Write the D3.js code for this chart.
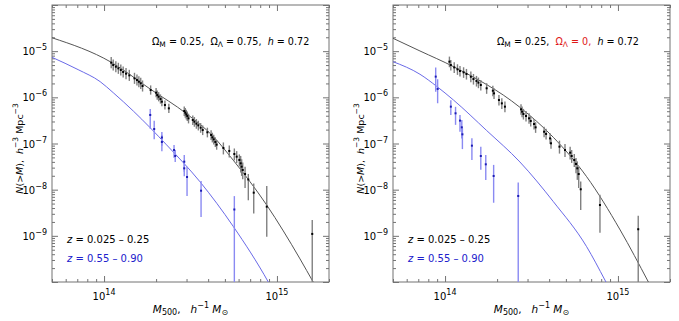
<!DOCTYPE html>
<html>
<head>
<meta charset="utf-8">
<script src="https://cdn.jsdelivr.net/npm/d3@7"></script>
<style>
  body { margin: 0; background: #fff; }
  svg { display: block; }
  text { font-family: "DejaVu Sans", sans-serif; fill: #000; white-space: pre; }
</style>
</head>
<body>
<svg id="chart" width="679" height="321"></svg>
<script>
// ---------------------------------------------------------------------------
// data (masses in 1e14 h^-1 Msun, N(>M) in h^3 Mpc^-3, errors in dex)
// ---------------------------------------------------------------------------

const massDomain = [5e13, 2e15];
const densDomain = [1e-10, 1e-4];
const xMajorLabels = [1e14, 1e15];
const yMajorLabels = [1e-5, 1e-6, 1e-7, 1e-8, 1e-9];

// panel 1: Omega_L = 0.75
const lowZ1_M = [1.10, 1.13, 1.17, 1.21, 1.25, 1.29, 1.34, 1.40, 1.50, 1.55, 1.59, 1.63, 1.67,
  1.86, 2.00, 2.03, 2.07, 2.12, 2.16, 2.25, 2.37, 2.91, 2.95, 2.99, 3.03, 3.08, 3.26, 3.33,
  3.42, 3.51, 3.62, 3.72, 3.96, 4.16, 4.23, 4.31, 4.40, 4.48, 4.90, 5.30, 5.67, 5.85, 6.06,
  6.17, 6.25, 6.34, 6.54, 6.83, 7.34, 8.73, 16.0];
const lowZ1_N = [5.64e-6, 5.01e-6, 4.61e-6, 4.25e-6, 3.91e-6, 3.54e-6, 3.26e-6, 2.99e-6, 2.58e-6,
  2.37e-6, 2.18e-6, 2.01e-6, 1.76e-6, 1.44e-6, 1.26e-6, 1.12e-6, 1.03e-6, 9.20e-7, 8.05e-7,
  6.82e-7, 5.78e-7, 5.06e-7, 4.66e-7, 4.28e-7, 3.94e-7, 3.51e-7, 3.23e-7, 2.97e-7, 2.69e-7,
  2.47e-7, 2.20e-7, 1.96e-7, 1.75e-7, 1.53e-7, 1.36e-7, 1.23e-7, 1.08e-7, 9.45e-8, 8.00e-8,
  6.89e-8, 5.92e-8, 5.19e-8, 4.40e-8, 3.72e-8, 3.15e-8, 2.67e-8, 2.18e-8, 1.66e-8, 8.61e-9,
  4.28e-9, 1.10e-9];
const lowZ1_up = [0.12, 0.12, 0.12, 0.12, 0.12, 0.12, 0.12, 0.12, 0.12, 0.12, 0.12, 0.12, 0.12,
  0.1, 0.1, 0.1, 0.1, 0.1, 0.1, 0.1, 0.1, 0.1, 0.1, 0.1, 0.1, 0.1, 0.1, 0.1, 0.1, 0.1, 0.1,
  0.1, 0.1, 0.1, 0.1, 0.1, 0.1, 0.1, 0.12, 0.12, 0.12, 0.12, 0.12, 0.16, 0.16, 0.16, 0.16,
  0.12, 0.2, 0.45, 0.3];
const lowZ1_dn = [0.12, 0.12, 0.12, 0.12, 0.12, 0.12, 0.12, 0.12, 0.12, 0.12, 0.12, 0.12, 0.12,
  0.1, 0.1, 0.1, 0.1, 0.1, 0.1, 0.1, 0.1, 0.11, 0.11, 0.11, 0.11, 0.11, 0.11, 0.11, 0.11,
  0.11, 0.11, 0.11, 0.11, 0.11, 0.11, 0.11, 0.11, 0.11, 0.14, 0.14, 0.14, 0.14, 0.14, 0.2,
  0.2, 0.2, 0.3, 0.45, 0.45, 0.65, 1.5];

const highZ1_M = [1.85, 1.95, 2.16, 2.16, 2.54, 2.58, 2.91, 2.91, 3.02, 3.64, 5.67];
const highZ1_N = [4.15e-7, 2.06e-7, 1.35e-7, 1.08e-7, 7.24e-8, 5.37e-8, 4.04e-8, 2.90e-8,
  1.88e-8, 9.5e-9, 3.72e-9];
const highZ1_up = [0.13, 0.18, 0.12, 0.15, 0.11, 0.13, 0.145, 0.14, 0.22, 0.21, 0.29];
const highZ1_dn = [0.3, 0.22, 0.18, 0.2, 0.17, 0.13, 0.22, 0.17, 0.41, 0.57, 2.0];

const modelLow1_M = [0.5, 1.10, 1.85, 3.01, 4.29, 5.58, 8.71, 13.6, 16.2, 20.0];
const modelLow1_N = [1.95e-5, 5.75e-6, 1.51e-6, 4.37e-7, 1.41e-7, 4.37e-8, 4.68e-9, 3.16e-10,
  1.0e-10, 2.6e-11];
const modelHigh1_M = [0.5, 0.708, 0.949, 1.13, 1.48, 2.30, 3.59, 5.60, 8.91, 11.2];
const modelHigh1_N = [7.36e-6, 3.98e-6, 2.19e-6, 1.26e-6, 5.01e-7, 9.33e-8, 1.48e-8, 1.58e-9,
  1.0e-10, 2.0e-11];

// panel 2: Omega_L = 0
const lowZ2_M = [1.06, 1.08, 1.13, 1.18, 1.22, 1.28, 1.33, 1.41, 1.46, 1.52, 1.56, 1.61, 1.74,
  1.89, 1.92, 2.05, 2.13, 2.22, 2.75, 2.79, 2.84, 2.94, 3.06, 3.13, 3.27, 3.34, 3.74, 3.84,
  4.05, 4.10, 4.59, 4.94, 5.29, 5.40, 5.59, 5.72, 5.82, 5.93, 6.09, 7.87, 13.1];
const lowZ2_N = [5.92e-6, 5.01e-6, 4.46e-6, 4.04e-6, 3.72e-6, 3.48e-6, 3.20e-6, 2.80e-6, 2.49e-6,
  2.26e-6, 2.08e-6, 1.85e-6, 1.57e-6, 1.39e-6, 1.22e-6, 8.76e-7, 7.41e-7, 6.28e-7, 5.50e-7,
  4.89e-7, 4.36e-7, 3.94e-7, 3.51e-7, 3.07e-7, 2.64e-7, 2.24e-7, 1.80e-7, 1.61e-7, 1.29e-7,
  1.01e-7, 8.54e-8, 7.22e-8, 6.33e-8, 5.36e-8, 4.39e-8, 3.60e-8, 2.90e-8, 2.18e-8, 1.02e-8,
  4.65e-9, 1.39e-9];
const lowZ2_up = [0.11, 0.11, 0.11, 0.11, 0.11, 0.11, 0.11, 0.11, 0.11, 0.11, 0.11, 0.11, 0.11,
  0.11, 0.11, 0.11, 0.11, 0.11, 0.11, 0.11, 0.11, 0.11, 0.11, 0.11, 0.11, 0.11, 0.11, 0.11,
  0.11, 0.11, 0.13, 0.13, 0.13, 0.13, 0.13, 0.13, 0.15, 0.15, 0.17, 0.22, 0.29];
const lowZ2_dn = [0.12, 0.12, 0.12, 0.12, 0.12, 0.12, 0.12, 0.12, 0.12, 0.12, 0.12, 0.12, 0.12,
  0.12, 0.12, 0.12, 0.12, 0.12, 0.12, 0.12, 0.12, 0.12, 0.12, 0.12, 0.12, 0.12, 0.12, 0.12,
  0.12, 0.12, 0.15, 0.15, 0.15, 0.15, 0.15, 0.2, 0.25, 0.3, 0.45, 0.6, 1.5];

const highZ2_M = [0.883, 0.906, 1.08, 1.15, 1.22, 1.25, 1.26, 1.43, 1.61, 1.72, 1.91, 2.65];
const highZ2_N = [2.81e-6, 1.52e-6, 6.28e-7, 4.51e-7, 3.13e-7, 2.24e-7, 1.58e-7, 8.98e-8,
  5.36e-8, 3.54e-8, 1.98e-8, 7.30e-9];
const highZ2_up = [0.2, 0.21, 0.14, 0.14, 0.12, 0.16, 0.13, 0.16, 0.2, 0.2, 0.24, 0.29];
const highZ2_dn = [0.33, 0.31, 0.18, 0.25, 0.24, 0.24, 0.32, 0.31, 0.3, 0.34, 0.58, 2.0];

const modelLow2_M = [0.5, 0.716, 1.12, 2.71, 4.23, 6.59, 10.3, 15.0, 20.0];
const modelLow2_N = [1.90e-5, 1.01e-5, 4.61e-6, 6.08e-7, 1.36e-7, 1.91e-8, 1.34e-9, 1.0e-10,
  1.26e-11];
const modelHigh2_M = [0.5, 0.716, 0.893, 1.12, 1.74, 2.71, 4.23, 6.59, 8.41, 10.0];
const modelHigh2_N = [5.92e-6, 3.16e-6, 1.74e-6, 8.71e-7, 1.91e-7, 3.98e-8, 5.50e-9, 5.82e-10,
  1.10e-10, 3.16e-11];

// ---------------------------------------------------------------------------
// layout / style
// ---------------------------------------------------------------------------

const FRAME = { top: 5, size: 277 };
const COLORS = {
  frame: '#737373',
  lowCurve: '#555555',
  lowErr: '#808080',
  lowDot: '#000000',
  highCurve: '#6a6ae8',
  highErr: '#8a8af2',
  highDot: '#1c1cb4',
  highText: '#2020cc',
  red: '#e01818',
};

const panels = [
  {
    left: 52, annX: 100, omegaL: '0.75', omegaRed: false,
    low: { M: lowZ1_M, N: lowZ1_N, up: lowZ1_up, dn: lowZ1_dn },
    high: { M: highZ1_M, N: highZ1_N, up: highZ1_up, dn: highZ1_dn },
    modelLow: { M: modelLow1_M, N: modelLow1_N },
    modelHigh: { M: modelHigh1_M, N: modelHigh1_N },
  },
  {
    left: 393, annX: 104, omegaL: '0', omegaRed: true,
    low: { M: lowZ2_M, N: lowZ2_N, up: lowZ2_up, dn: lowZ2_dn },
    high: { M: highZ2_M, N: highZ2_N, up: highZ2_up, dn: highZ2_dn },
    modelLow: { M: modelLow2_M, N: modelLow2_N },
    modelHigh: { M: modelHigh2_M, N: modelHigh2_N },
  },
];

const svg = d3.select('#chart');

function toRows(s) {
  return s.M.map((m, i) => ({
    M: m * 1e14,
    N: s.N[i],
    hi: s.up ? s.N[i] * Math.pow(10, s.up[i]) : null,
    lo: s.dn ? s.N[i] / Math.pow(10, s.dn[i]) : null,
  }));
}

function isMajor(v) {
  const m = v / Math.pow(10, Math.floor(Math.log10(v) + 1e-9));
  return Math.abs(m - 1) < 1e-6;
}

function drawPanel(p, idx) {
  const size = FRAME.size;
  const g = svg.append('g').attr('transform', `translate(${p.left},${FRAME.top})`);

  const x = d3.scaleLog().domain(massDomain).range([0, size]);
  const y = d3.scaleLog().domain(densDomain).range([size, 0]);

  const clipId = `clip-${idx}`;
  g.append('clipPath').attr('id', clipId)
    .append('rect').attr('width', size).attr('height', size);

  // ticks (inward, all four sides)
  const xt = x.ticks();
  const yt = y.ticks();
  const xMaj = xt.filter(isMajor), xMin = xt.filter(v => !isMajor(v));
  const yMaj = yt.filter(isMajor), yMin = yt.filter(v => !isMajor(v));

  const axes = [
    [d3.axisBottom(x), xMaj, 6, `translate(0,${size})`],
    [d3.axisBottom(x), xMin, 3, `translate(0,${size})`],
    [d3.axisTop(x), xMaj, 6, 'translate(0,0)'],
    [d3.axisTop(x), xMin, 3, 'translate(0,0)'],
    [d3.axisLeft(y), yMaj, 6, 'translate(0,0)'],
    [d3.axisLeft(y), yMin, 3, 'translate(0,0)'],
    [d3.axisRight(y), yMaj, 6, `translate(${size},0)`],
    [d3.axisRight(y), yMin, 3, `translate(${size},0)`],
  ];
  axes.forEach(([ax, vals, len, tr]) => {
    const a = g.append('g').attr('transform', tr)
      .call(ax.tickValues(vals).tickSize(-len).tickFormat(''));
    a.select('.domain').remove();
    a.selectAll('line').attr('stroke', COLORS.frame).attr('stroke-width', 1);
  });

  g.append('rect')
    .attr('width', size).attr('height', size)
    .attr('fill', 'none').attr('stroke', COLORS.frame).attr('stroke-width', 1);

  // tick labels with superscripts
  xMajorLabels.forEach(v => {
    const t = g.append('text')
      .attr('x', x(v)).attr('y', size + 18)
      .attr('text-anchor', 'middle').style('font-size', '10px');
    t.append('tspan').text('10');
    t.append('tspan').attr('dy', -5).style('font-size', '8px').text(Math.round(Math.log10(v)));
  });
  yMajorLabels.forEach(v => {
    const t = g.append('text')
      .attr('x', -5).attr('y', y(v) + 4)
      .attr('text-anchor', 'end').style('font-size', '10px');
    t.append('tspan').text('10');
    t.append('tspan').attr('dy', -5).style('font-size', '8px')
      .text('\u2212' + Math.abs(Math.round(Math.log10(v))));
  });

  // model curves
  const plot = g.append('g').attr('clip-path', `url(#${clipId})`);
  const line = d3.line()
    .x(d => x(d.M)).y(d => y(d.N))
    .curve(d3.curveMonotoneX);

  plot.append('path').datum(toRows(p.modelLow))
    .attr('d', line).attr('fill', 'none')
    .attr('stroke', COLORS.lowCurve).attr('stroke-width', 1);
  plot.append('path').datum(toRows(p.modelHigh))
    .attr('d', line).attr('fill', 'none')
    .attr('stroke', COLORS.highCurve).attr('stroke-width', 1);

  // data points with error bars
  [[p.low, COLORS.lowErr, COLORS.lowDot], [p.high, COLORS.highErr, COLORS.highDot]]
    .forEach(([set, errColor, dotColor]) => {
      const rows = toRows(set);
      plot.selectAll(null).data(rows).enter().append('line')
        .attr('x1', d => x(d.M)).attr('x2', d => x(d.M))
        .attr('y1', d => y(d.hi)).attr('y2', d => y(d.lo))
        .attr('stroke', errColor).attr('stroke-width', 1.4);
      plot.selectAll(null).data(rows).enter().append('rect')
        .attr('x', d => x(d.M) - 1).attr('y', d => y(d.N) - 1)
        .attr('width', 2).attr('height', 2)
        .attr('fill', dotColor);
    });

  // cosmology annotation
  const ann = g.append('text')
    .attr('x', p.annX).attr('y', 40)
    .style('font-size', '9.6px');
  ann.append('tspan').text('\u03A9');
  ann.append('tspan').attr('dy', 2).style('font-size', '7.5px').text('M');
  ann.append('tspan').attr('dy', -2).text(' = 0.25,  ');
  const red = p.omegaRed ? COLORS.red : '#000';
  ann.append('tspan').style('fill', red).text('\u03A9');
  ann.append('tspan').attr('dy', 2).style('font-size', '7.5px').style('fill', red).text('\u039B');
  ann.append('tspan').attr('dy', -2).style('fill', red).text(` = ${p.omegaL},`);
  ann.append('tspan').text('  ');
  ann.append('tspan').style('font-style', 'italic').text('h');
  ann.append('tspan').text(' = 0.72');

  // redshift legend
  const leg1 = g.append('text').attr('x', 15).attr('y', 238).style('font-size', '10px');
  leg1.append('tspan').style('font-style', 'italic').text('z');
  leg1.append('tspan').text(' = 0.025 \u2013 0.25');
  const leg2 = g.append('text').attr('x', 15).attr('y', 257).style('font-size', '10px');
  leg2.append('tspan').style('font-style', 'italic').style('fill', COLORS.highText).text('z');
  leg2.append('tspan').style('fill', COLORS.highText).text(' = 0.55 \u2013 0.90');

  // x axis title
  const xTitle = g.append('text')
    .attr('x', size / 2).attr('y', size + 31)
    .attr('text-anchor', 'middle').style('font-size', '10.5px');
  xTitle.append('tspan').style('font-style', 'italic').text('M');
  xTitle.append('tspan').attr('dy', 2).style('font-size', '8px').text('500');
  xTitle.append('tspan').attr('dy', -2).text(',   ');
  xTitle.append('tspan').style('font-style', 'italic').text('h');
  xTitle.append('tspan').attr('dy', -5).style('font-size', '8px').text('\u22121');
  xTitle.append('tspan').attr('dy', 5).text(' ');
  xTitle.append('tspan').style('font-style', 'italic').text('M');
  xTitle.append('tspan').attr('dy', 2).style('font-size', '8px').text('\u2299');

  // y axis title
  const yTitle = g.append('text')
    .attr('transform', `translate(-29,${size / 2 + 5}) rotate(-90)`)
    .attr('text-anchor', 'middle').style('font-size', '9.5px');
  yTitle.append('tspan').style('font-style', 'italic').text('N');
  yTitle.append('tspan').text('(>');
  yTitle.append('tspan').style('font-style', 'italic').text('M');
  yTitle.append('tspan').text('),  ');
  yTitle.append('tspan').style('font-style', 'italic').text('h');
  yTitle.append('tspan').attr('dy', -5).style('font-size', '7.5px').text('\u22123');
  yTitle.append('tspan').attr('dy', 5).text(' Mpc');
  yTitle.append('tspan').attr('dy', -5).style('font-size', '7.5px').text('\u22123');
}

panels.forEach(drawPanel);
</script>
</body>
</html>
